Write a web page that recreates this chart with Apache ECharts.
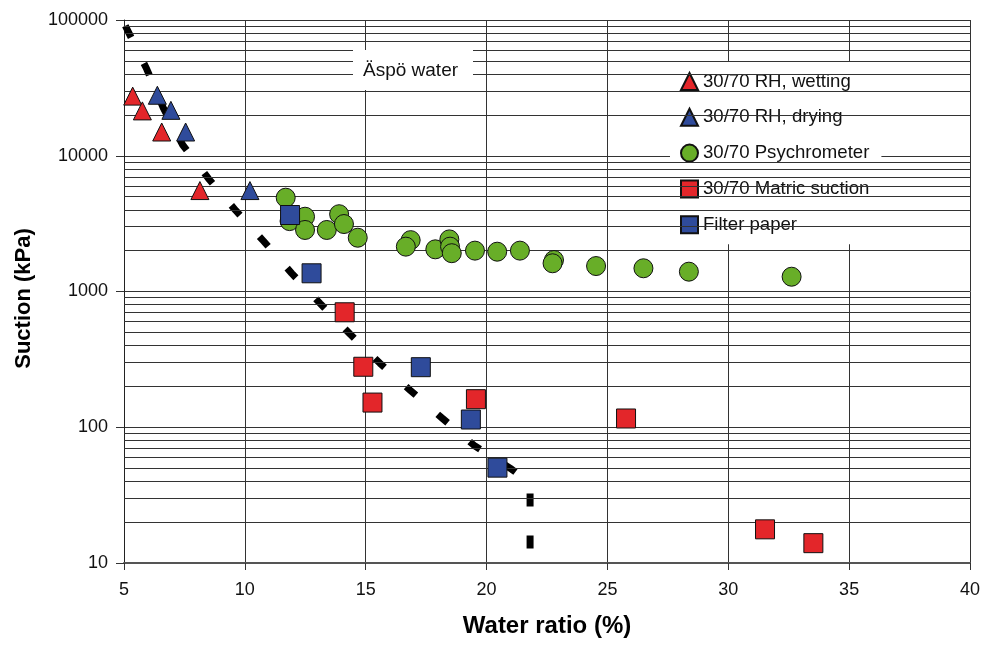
<!DOCTYPE html>
<html>
<head>
<meta charset="utf-8">
<script src="https://cdn.jsdelivr.net/npm/echarts@6/dist/echarts.min.js"></script>
<style>
  html, body { margin: 0; padding: 0; background: #fff; }
  #chart { width: 983px; height: 646px; }
</style>
</head>
<body>
<div id="chart"></div>
<script>
// Suction vs. water ratio, 30/70 mixture
const wettingX = [5.36, 5.76, 6.56, 8.14];
const wettingY = [27500, 21400, 14960, 5540];

const dryingX = [6.38, 6.94, 7.55, 10.21];
const dryingY = [27900, 21600, 14960, 5540];

const psychroX = [11.69, 11.85, 12.49, 12.49, 13.39, 13.9, 14.1, 14.67, 16.86, 16.66, 17.88, 18.46, 18.49, 18.56, 19.52, 20.44, 21.38, 22.79, 22.73, 24.53, 26.49, 28.37, 32.62];
const psychroY = [4910, 3300, 3556, 2840, 2840, 3710, 3140, 2490, 2390, 2140, 2045, 2420, 2140, 1915, 2000, 1965, 2000, 1706, 1614, 1540, 1483, 1400, 1285];

const matricX = [14.13, 14.9, 15.28, 19.56, 25.77, 31.52, 33.52];
const matricY = [703, 279, 152, 161, 116, 17.7, 14.0];

const filterX = [11.87, 12.76, 17.28, 19.35, 20.45];
const filterY = [3660, 1362, 277, 114, 50.4];

// Äspö water reference curve
const aspoX = [5.0, 5.94, 6.63, 7.43, 8.49, 9.63, 10.77, 11.94, 13.11, 14.35, 15.59, 16.83, 18.18, 19.52, 21.04, 21.8, 21.8];
const aspoY = [95000, 43500, 22400, 12000, 6800, 3940, 2355, 1360, 818, 486, 296, 188, 116, 72.7, 49, 39, 12.5];

const xTicks = [5, 10, 15, 20, 25, 30, 35, 40];
const yDecades = [10, 100, 1000, 10000, 100000];
const minorMultipliers = [2, 3, 4, 5, 6, 7, 8, 9];

const zip = (xs, ys) => xs.map((x, i) => [x, ys[i]]);

const minorLines = [];
yDecades.slice(0, -1).forEach(d => minorMultipliers.forEach(m => minorLines.push({ yAxis: d * m })));

const FONT = 'Liberation Sans, Arial, sans-serif';
const RED = '#E3262A', BLUE = '#2F4B9B', GREEN = '#68AE28';
const EDGE = '#111';
const GRID = '#333';

const markerSeries = (name, xs, ys, symbol, size, color) => ({
  name, type: 'scatter', z: 5,
  data: zip(xs, ys),
  symbol, symbolSize: size,
  itemStyle: { color, borderColor: EDGE, borderWidth: 1, opacity: 1 }
});

const chart = echarts.init(document.getElementById('chart'));
chart.setOption({
  animation: false,
  backgroundColor: '#fff',
  grid: { left: 124, right: 13, top: 20, bottom: 83 },
  xAxis: {
    type: 'value', min: xTicks[0], max: xTicks[xTicks.length - 1], interval: 5,
    name: 'Water ratio (%)', nameLocation: 'middle', nameGap: 51,
    nameTextStyle: { fontFamily: FONT, fontSize: 24, fontWeight: 'bold', color: '#000' },
    axisLine: { lineStyle: { color: '#555', width: 2 } },
    axisTick: { show: true, length: 7, lineStyle: { color: '#333' } },
    axisLabel: { fontFamily: FONT, fontSize: 18, color: '#111', margin: 18 },
    splitLine: { show: true, lineStyle: { color: GRID, width: 1 } }
  },
  yAxis: {
    type: 'log', logBase: 10, min: yDecades[0], max: yDecades[yDecades.length - 1],
    name: 'Suction (kPa)', nameLocation: 'middle', nameGap: 89,
    nameTextStyle: { fontFamily: FONT, fontSize: 22, fontWeight: 'bold', color: '#000', padding: [0, 14, 0, 0] },
    axisLine: { show: true, lineStyle: { color: '#222', width: 1 } },
    axisTick: { show: true, length: 8, lineStyle: { color: '#333' } },
    axisLabel: { fontFamily: FONT, fontSize: 18, color: '#111', margin: 16, formatter: v => String(v) },
    splitLine: { show: true, lineStyle: { color: GRID, width: 1 } },
    minorTick: { show: false }, minorSplitLine: { show: false }
  },
  legend: {
    orient: 'vertical', left: 670, top: 61,
    backgroundColor: '#fff', padding: [11, 12, 10, 10],
    itemWidth: 17, itemHeight: 17, itemGap: 16.8,
    textStyle: { fontFamily: FONT, fontSize: 18.6, lineHeight: 18, color: '#111' },
    data: ['30/70 RH, wetting', '30/70 RH, drying', '30/70 Psychrometer', '30/70 Matric suction', 'Filter paper']
  },
  graphic: [
    { type: 'rect', left: 353, top: 50, z: 50, shape: { width: 120, height: 40 }, style: { fill: '#fff' } },
    { type: 'text', left: 363, top: 61, z: 51, style: { text: 'Äspö water', font: '19px ' + FONT, fill: '#111' } }
  ],
  series: [
    {
      // minor horizontal gridlines at 2..9 of each decade
      name: 'grid', type: 'scatter', z: 1, silent: true,
      data: [[xTicks[0], yDecades[0]]], symbolSize: 0,
      markLine: {
        silent: true, symbol: 'none', label: { show: false },
        lineStyle: { color: GRID, width: 1, type: 'solid' },
        emphasis: { disabled: true },
        data: minorLines
      }
    },
    {
      name: 'Äspö water', type: 'line', z: 3, silent: true,
      data: zip(aspoX, aspoY), showSymbol: false, symbol: 'none',
      lineStyle: { color: '#000', width: 7, type: [13, 29], cap: 'butt', dashOffset: -3 }
    },
    markerSeries('30/70 RH, wetting', wettingX, wettingY, 'triangle', 18, RED),
    markerSeries('30/70 RH, drying', dryingX, dryingY, 'triangle', 18, BLUE),
    markerSeries('30/70 Psychrometer', psychroX, psychroY, 'circle', 19, GREEN),
    markerSeries('30/70 Matric suction', matricX, matricY, 'rect', 19, RED),
    markerSeries('Filter paper', filterX, filterY, 'rect', 19, BLUE)
  ]
});
</script>
</body>
</html>
